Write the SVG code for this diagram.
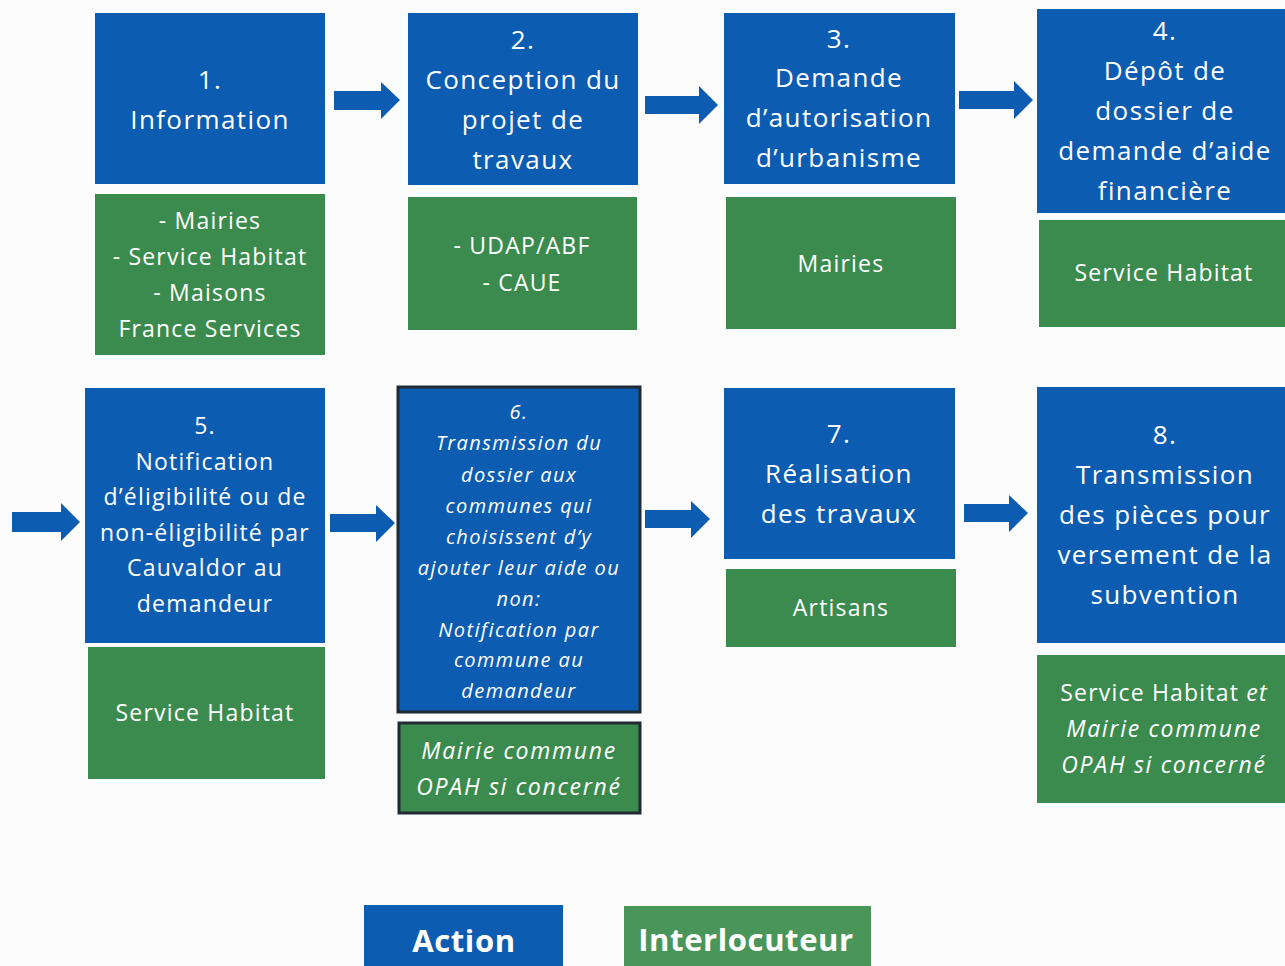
<svg xmlns="http://www.w3.org/2000/svg" width="1285" height="966" viewBox="0 0 1285 966">
<style>
.bg{fill:#fcfcfd}
.act{fill:#0c5cb1}
.int{fill:#3c8b4e}
.bord{stroke:#1f2a33;stroke-width:3}
.arr{fill:#0c5cb1}
text{font-family:"Open Sans","Noto Sans","Liberation Sans",sans-serif;fill:#ffffff;text-anchor:middle}
.t1{font-size:26px;letter-spacing:1.4px}
.t2{font-size:23px;letter-spacing:1.2px}
.ti{font-size:20px;font-style:italic;letter-spacing:1.4px}
.gi{font-size:23px;font-style:italic;letter-spacing:1.7px}
.it{font-style:italic}
.leg{font-size:31px;font-weight:bold;letter-spacing:0.6px}
</style>
<rect class="bg" x="0" y="0" width="1285" height="966"/>

<g id="connectors">
  <path class="arr" d="M334,91 H381 V82 L400,100 L381,119 V110 H334 Z"/>
  <path class="arr" d="M645,96 H699 V86 L718,105 L699,124 V114 H645 Z"/>
  <path class="arr" d="M959,91 H1014 V81 L1033,100 L1014,119 V109 H959 Z"/>
  <path class="arr" d="M12,512 H61 V503 L80,522 L61,541 V532 H12 Z"/>
  <path class="arr" d="M330,514 H376 V505 L395,523 L376,542 V532 H330 Z"/>
  <path class="arr" d="M645,510 H691 V501 L710,519 L691,538 V528 H645 Z"/>
  <path class="arr" d="M964,504 H1009 V495 L1028,513 L1009,532 V522 H964 Z"/>
</g>

<g id="node1">
  <rect class="act" x="95" y="13" width="230" height="171"/>
  <text class="t1" x="210" y="89">1.</text>
  <text class="t1" x="210" y="129">Information</text>
</g>
<g id="node1b">
  <rect class="int" x="95" y="194" width="230" height="161"/>
  <text class="t2" x="210" y="229">- Mairies</text>
  <text class="t2" x="210" y="265">- Service Habitat</text>
  <text class="t2" x="210" y="301">- Maisons</text>
  <text class="t2" x="210" y="337">France Services</text>
</g>

<g id="node2">
  <rect class="act" x="408" y="13" width="230" height="172"/>
  <text class="t1" x="523" y="49">2.</text>
  <text class="t1" x="523" y="89">Conception du</text>
  <text class="t1" x="523" y="129">projet de</text>
  <text class="t1" x="523" y="169">travaux</text>
</g>
<g id="node2b">
  <rect class="int" x="408" y="197" width="229" height="133"/>
  <text class="t2" x="522" y="254">- UDAP/ABF</text>
  <text class="t2" x="522" y="291">- CAUE</text>
</g>

<g id="node3">
  <rect class="act" x="724" y="13" width="231" height="171"/>
  <text class="t1" x="839" y="48">3.</text>
  <text class="t1" x="839" y="87">Demande</text>
  <text class="t1" x="839" y="127">d’autorisation</text>
  <text class="t1" x="839" y="167">d’urbanisme</text>
</g>
<g id="node3b">
  <rect class="int" x="726" y="197" width="230" height="132"/>
  <text class="t2" x="841" y="272">Mairies</text>
</g>

<g id="node4">
  <rect class="act" x="1037" y="9" width="248" height="204"/>
  <text class="t1" x="1165" y="40">4.</text>
  <text class="t1" x="1165" y="80">Dépôt de</text>
  <text class="t1" x="1165" y="120">dossier de</text>
  <text class="t1" x="1165" y="160">demande d’aide</text>
  <text class="t1" x="1165" y="200">financière</text>
</g>
<g id="node4b">
  <rect class="int" x="1039" y="220" width="246" height="107"/>
  <text class="t2" x="1164" y="281">Service Habitat</text>
</g>

<g id="node5">
  <rect class="act" x="85" y="388" width="240" height="255"/>
  <text class="t2" x="205" y="434">5.</text>
  <text class="t2" x="205" y="470">Notification</text>
  <text class="t2" x="205" y="505">d’éligibilité ou de</text>
  <text class="t2" x="205" y="541">non-éligibilité par</text>
  <text class="t2" x="205" y="576">Cauvaldor au</text>
  <text class="t2" x="205" y="612">demandeur</text>
</g>
<g id="node5b">
  <rect class="int" x="88" y="647" width="237" height="132"/>
  <text class="t2" x="205" y="721">Service Habitat</text>
</g>

<g id="node6">
  <rect class="act bord" x="398" y="387" width="242" height="325"/>
  <text class="ti" x="519" y="419">6.</text>
  <text class="ti" x="519" y="450">Transmission du</text>
  <text class="ti" x="519" y="482">dossier aux</text>
  <text class="ti" x="519" y="513">communes qui</text>
  <text class="ti" x="519" y="544">choisissent d’y</text>
  <text class="ti" x="519" y="575">ajouter leur aide ou</text>
  <text class="ti" x="519" y="606">non:</text>
  <text class="ti" x="519" y="637">Notification par</text>
  <text class="ti" x="519" y="667">commune au</text>
  <text class="ti" x="519" y="698">demandeur</text>
</g>
<g id="node6b">
  <rect class="int bord" x="399" y="723" width="241" height="90"/>
  <text class="gi" x="519" y="759">Mairie commune</text>
  <text class="gi" x="519" y="795">OPAH si concerné</text>
</g>

<g id="node7">
  <rect class="act" x="724" y="388" width="231" height="171"/>
  <text class="t1" x="839" y="443">7.</text>
  <text class="t1" x="839" y="483">Réalisation</text>
  <text class="t1" x="839" y="523">des travaux</text>
</g>
<g id="node7b">
  <rect class="int" x="726" y="569" width="230" height="78"/>
  <text class="t2" x="841" y="616">Artisans</text>
</g>

<g id="node8">
  <rect class="act" x="1037" y="387" width="248" height="256"/>
  <text class="t1" x="1165" y="444">8.</text>
  <text class="t1" x="1165" y="484">Transmission</text>
  <text class="t1" x="1165" y="524">des pièces pour</text>
  <text class="t1" x="1165" y="564">versement de la</text>
  <text class="t1" x="1165" y="604">subvention</text>
</g>
<g id="node8b">
  <rect class="int" x="1037" y="655" width="248" height="148"/>
  <text class="t2" x="1164" y="701">Service Habitat <tspan class="it">et</tspan></text>
  <text class="gi" x="1164" y="737">Mairie commune</text>
  <text class="gi" x="1164" y="773">OPAH si concerné</text>
</g>

<g id="legend-action">
  <rect class="act" x="364" y="905" width="199" height="61"/>
  <text class="leg" x="464" y="952">Action</text>
</g>
<g id="legend-interlocuteur">
  <rect class="int" x="624" y="906" width="247" height="60" style="fill:#4a965a"/>
  <text class="leg" x="746" y="951">Interlocuteur</text>
</g>
</svg>
